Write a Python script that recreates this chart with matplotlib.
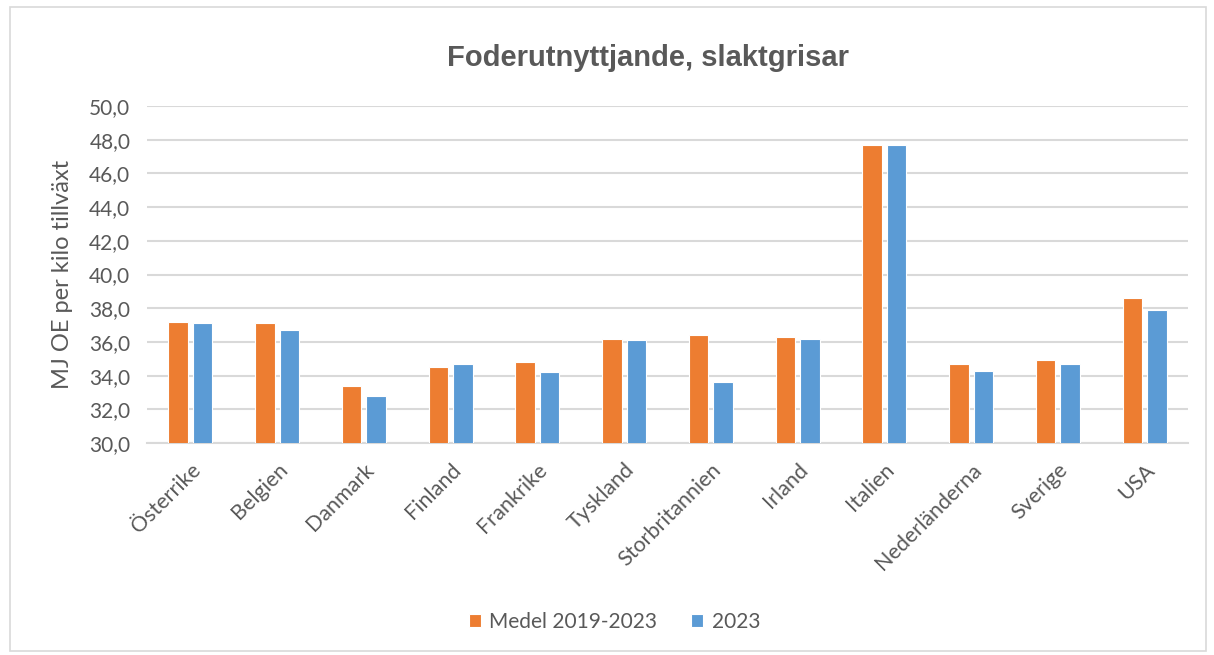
import numpy as np
import matplotlib.pyplot as plt
from matplotlib.patches import Rectangle

# data
countries = ['Österrike', 'Belgien', 'Danmark', 'Finland', 'Frankrike', 'Tyskland',
             'Storbritannien', 'Irland', 'Italien', 'Nederländerna', 'Sverige', 'USA']
medel = [37.2, 37.1, 33.4, 34.5, 34.8, 36.2, 36.4, 36.3, 47.7, 34.7, 34.9, 38.6]
y2023 = [37.1, 36.7, 32.8, 34.7, 34.2, 36.1, 33.6, 36.2, 47.7, 34.3, 34.7, 37.9]
series_names = ['Medel 2019-2023', '2023']
yticks = np.arange(30, 50.1, 2)

orange = '#ed7d31'
blue = '#5b9bd5'
gray_txt = '#595959'
grid_col = '#d9d9d9'

fig = plt.figure(figsize=(12.14, 6.55), dpi=100)
ax = fig.add_axes([147/1214, 1 - 443/655, (1188-147)/1214, (443-106)/655])

x = np.arange(len(countries))
w = 0.225
ax.bar(x - 0.14, medel, w, color=orange, edgecolor='white', linewidth=0.8,
       label=series_names[0], zorder=3)
ax.bar(x + 0.14, y2023, w, color=blue, edgecolor='white', linewidth=0.8,
       label=series_names[1], zorder=3)

ax.set_xlim(-0.5, len(countries) - 0.5)
ax.set_ylim(30, 50)
ax.set_yticks(yticks)
ax.set_yticklabels([('%.1f' % v).replace('.', ',') for v in yticks],
                   fontsize=15, color=gray_txt, family='Lato')
ax.set_xticks(x)
ax.set_xticklabels(countries, rotation=45, ha='right', rotation_mode='anchor',
                   fontsize=15.5, color=gray_txt, family='Lato')
ax.tick_params(axis='y', length=0, pad=12)
ax.tick_params(axis='x', length=0, pad=12)
ax.grid(axis='y', color=grid_col, linewidth=1.5, zorder=0)
for s in ['top', 'right', 'left']:
    ax.spines[s].set_visible(False)
ax.spines['bottom'].set_color(grid_col)
ax.spines['bottom'].set_linewidth(1.5)

ax.set_ylabel('MJ OE per kilo tillväxt', fontsize=17, color=gray_txt, family='Lato',
              labelpad=12)
fig.text(0.534, 1 - 58/655, 'Foderutnyttjande, slaktgrisar', ha='center', va='center',
         fontsize=21, fontweight='bold', color=gray_txt, family='Liberation Sans')

fig.legend(loc='center', bbox_to_anchor=(0.506, 1 - 622/655), ncol=2, frameon=False,
           prop={'family': 'Lato', 'size': 15}, labelcolor=gray_txt,
           handlelength=0.6, handleheight=0.6, columnspacing=1.6, handletextpad=0.4)

# chart border
fig.patches.append(Rectangle((10/1214, 1 - 651/655), 1196/1214, 644/655,
                             transform=fig.transFigure, fill=False,
                             edgecolor=grid_col, linewidth=1.2))

fig.savefig('out.png', dpi=100)
